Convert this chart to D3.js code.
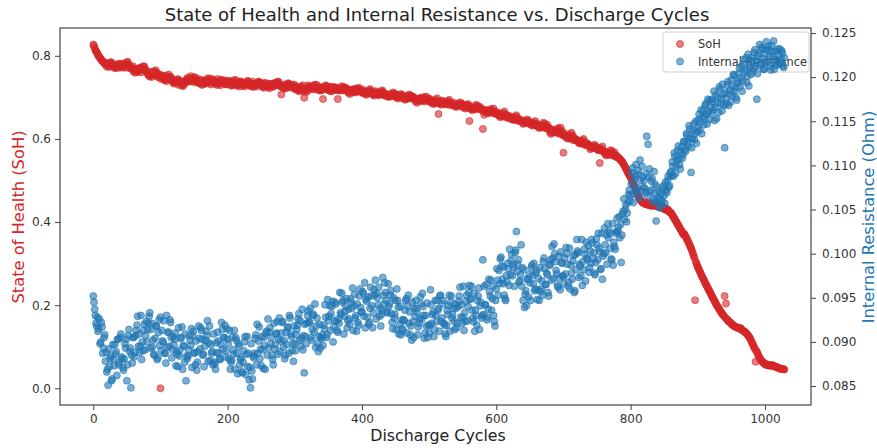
<!DOCTYPE html>
<html>
<head>
<meta charset="utf-8">
<script src="https://cdn.jsdelivr.net/npm/d3@7"></script>
<style>
  body { margin: 0; background: #fff; }
  text { font-family: "DejaVu Sans", sans-serif; }
</style>
</head>
<body>
<div id="chart"></div>
<script>
// discharge cycles: even ones and odd ones kept in separate lists
var cyclesEven = d3.range(0, 1030, 2);
var cyclesOdd = d3.range(1, 1030, 2);

// state of health, in thousandths (even cycles)
var sohEven = [
  827, 819, 811, 806, 800, 795, 791, 787, 784, 781,
  774, 777, 781, 785, 782, 776, 772, 770, 777, 781,
  781, 777, 772, 775, 780, 783, 776, 770, 772, 768,
  762, 759, 765, 769, 763, 768, 773, 770, 774, 765,
  760, 753, 750, 753, 756, 763, 761, 755, 758, 751,
  0, 753, 746, 741, 745, 751, 755, 748, 742, 739,
  733, 736, 740, 744, 741, 735, 731, 729, 736, 740,
  747, 743, 738, 741, 746, 749, 742, 736, 738, 734,
  733, 730, 736, 740, 734, 739, 744, 741, 745, 736,
  740, 733, 730, 733, 736, 743, 741, 735, 738, 731,
  736, 740, 733, 728, 732, 738, 742, 735, 729, 726,
  738, 734, 729, 732, 737, 740, 733, 727, 729, 725,
  727, 730, 734, 738, 735, 729, 725, 723, 730, 734,
  725, 722, 728, 732, 726, 731, 736, 733, 737, 728,
  707, 724, 721, 724, 727, 734, 732, 726, 729, 722,
  723, 727, 720, 715, 719, 725, 729, 699, 716, 713,
  729, 725, 720, 723, 728, 731, 724, 718, 720, 716,
  718, 696, 725, 729, 726, 720, 716, 714, 721, 725,
  724, 717, 696, 717, 720, 727, 725, 719, 722, 715,
  711, 708, 714, 718, 712, 717, 722, 719, 723, 714,
  714, 718, 711, 706, 710, 716, 720, 713, 707, 704,
  715, 711, 706, 709, 714, 717, 710, 704, 706, 702,
  701, 704, 708, 712, 709, 703, 699, 697, 704, 708,
  704, 697, 694, 697, 700, 707, 705, 699, 702, 695,
  690, 687, 693, 697, 691, 696, 701, 698, 702, 693,
  692, 696, 689, 684, 688, 694, 698, 660, 685, 682,
  692, 688, 683, 686, 691, 694, 687, 681, 683, 679,
  677, 680, 684, 688, 685, 679, 675, 673, 680, 684,
  643, 672, 669, 672, 675, 682, 680, 674, 677, 670,
  624, 658, 664, 668, 662, 667, 672, 669, 673, 664,
  660, 664, 657, 652, 656, 662, 666, 659, 653, 650,
  655, 651, 646, 649, 654, 657, 650, 644, 646, 642,
  636, 639, 643, 647, 644, 638, 634, 632, 639, 643,
  636, 629, 626, 629, 632, 639, 637, 631, 634, 627,
  615, 612, 618, 622, 616, 621, 626, 623, 627, 618,
  567, 613, 606, 601, 605, 611, 615, 608, 602, 599,
  598, 594, 589, 592, 597, 600, 593, 587, 589, 585,
  575, 578, 582, 586, 583, 577, 573, 542, 578, 582,
  570, 563, 560, 563, 566, 573, 571, 565, 568, 561,
  558, 554, 552, 547, 544, 538, 532, 526, 519, 513,
  508, 500, 492, 485, 476, 468, 460, 455, 450, 447,
  446, 443, 447, 441, 444, 439, 443, 440, 442, 438,
  441, 437, 439, 434, 436, 431, 433, 428, 429, 424,
  422, 417, 412, 406, 401, 394, 390, 383, 378, 372,
  372, 365, 358, 352, 344, 337, 328, 318, 212, 301,
  292, 285, 278, 270, 264, 257, 250, 245, 238, 232,
  225, 219, 213, 207, 200, 196, 190, 185, 180, 176,
  222, 204, 165, 161, 159, 155, 152, 150, 148, 147,
  146, 143, 145, 140, 138, 136, 133, 129, 125, 120,
  112, 106, 99, 64, 88, 80, 73, 68, 64, 61,
  58, 56, 57, 55, 54, 56, 55, 53, 52, 51,
  49, 48, 47, 46, 46
];

// state of health, in thousandths (odd cycles)
var sohOdd = [
  824, 814, 809, 801, 798, 792, 788, 785, 780, 783,
  780, 773, 776, 783, 779, 771, 775, 779, 774, 771,
  774, 779, 782, 771, 777, 786, 779, 773, 769, 775,
  769, 764, 761, 766, 771, 760, 767, 775, 768, 762,
  757, 762, 755, 749, 759, 754, 765, 752, 748, 754,
  744, 749, 752, 744, 739, 748, 743, 750, 745, 737,
  738, 742, 735, 730, 738, 733, 727, 739, 734, 742,
  739, 745, 751, 744, 737, 742, 747, 740, 735, 743,
  741, 736, 732, 742, 737, 746, 735, 731, 739, 742,
  734, 738, 744, 737, 729, 735, 739, 732, 741, 736,
  731, 737, 730, 735, 741, 733, 728, 736, 732, 738,
  735, 730, 726, 734, 731, 737, 729, 733, 738, 731,
  733, 726, 732, 737, 730, 733, 728, 735, 727, 732,
  728, 733, 730, 725, 734, 729, 731, 738, 730, 726,
  729, 725, 731, 722, 728, 733, 724, 729, 726, 731,
  719, 724, 717, 722, 726, 718, 714, 721, 719, 724,
  721, 726, 722, 719, 727, 724, 730, 721, 725, 720,
  724, 719, 722, 727, 718, 723, 726, 719, 717, 723,
  719, 723, 718, 721, 716, 722, 718, 724, 717, 720,
  718, 713, 717, 720, 714, 712, 718, 715, 719, 713,
  710, 715, 712, 708, 713, 711, 716, 709, 712, 708,
  712, 708, 705, 711, 707, 713, 709, 705, 708, 703,
  706, 702, 707, 704, 709, 701, 705, 703, 700, 706,
  702, 699, 703, 696, 701, 698, 703, 697, 700, 696,
  697, 692, 695, 699, 693, 697, 690, 695, 692, 697,
  691, 687, 692, 690, 685, 692, 688, 686, 691, 686,
  685, 689, 684, 687, 682, 688, 685, 683, 687, 682,
  683, 679, 682, 678, 684, 680, 677, 682, 676, 680,
  676, 673, 678, 674, 671, 677, 673, 675, 670, 672,
  668, 665, 670, 663, 667, 664, 669, 662, 666, 661,
  661, 657, 660, 655, 659, 654, 657, 652, 656, 652,
  652, 648, 651, 646, 649, 644, 647, 643, 645, 641,
  643, 639, 641, 637, 640, 636, 638, 635, 637, 633,
  634, 631, 633, 628, 631, 627, 629, 625, 627, 622,
  624, 619, 621, 617, 619, 614, 616, 612, 613, 609,
  609, 605, 607, 602, 604, 600, 602, 597, 599, 596,
  595, 591, 593, 589, 590, 586, 588, 584, 586, 582,
  583, 579, 580, 577, 578, 574, 576, 572, 574, 570,
  570, 567, 568, 564, 565, 561, 563, 559, 560, 556,
  556, 553, 550, 546, 541, 535, 529, 522, 516, 510,
  504, 496, 488, 480, 472, 464, 458, 452, 449, 446,
  444, 446, 442, 445, 440, 444, 439, 442, 439, 441,
  439, 438, 436, 437, 433, 434, 430, 431, 426, 423,
  420, 414, 409, 403, 398, 392, 386, 381, 375, 369,
  368, 362, 355, 348, 341, 333, 323, 314, 305, 296,
  289, 281, 274, 267, 261, 254, 248, 241, 235, 229,
  222, 216, 210, 204, 198, 193, 188, 183, 178, 174,
  170, 167, 163, 160, 157, 154, 151, 149, 147, 146,
  145, 144, 142, 139, 137, 134, 131, 127, 122, 117,
  109, 102, 94, 91, 84, 77, 71, 66, 63, 60,
  57, 58, 55, 56, 54, 55, 54, 52, 51, 50,
  48, 47, 47, 46, 45
];

// internal resistance, in 1e-4 ohm (even cycles)
var resEven = [
  952, 937, 921, 928, 915, 898, 922, 887, 905, 878,
  866, 851, 872, 884, 858, 880, 897, 889, 903, 874,
  905, 883, 871, 881, 893, 856, 907, 889, 848, 876,
  905, 888, 913, 929, 909, 895, 880, 890, 920, 907,
  900, 921, 933, 914, 894, 886, 904, 918, 882, 925,
  928, 913, 900, 887, 876, 894, 911, 925, 905, 891,
  897, 910, 889, 872, 884, 904, 917, 896, 877, 856,
  881, 891, 902, 915, 907, 887, 874, 868, 889, 904,
  916, 903, 886, 895, 912, 924, 899, 879, 887, 874,
  877, 869, 888, 901, 881, 897, 914, 905, 919, 890,
  903, 881, 869, 879, 891, 913, 905, 887, 898, 874,
  882, 865, 890, 906, 886, 872, 857, 848, 867, 884,
  887, 908, 920, 901, 881, 873, 891, 905, 869, 912,
  926, 911, 898, 885, 874, 892, 909, 923, 903, 889,
  910, 923, 902, 885, 897, 917, 930, 909, 890, 878,
  898, 908, 919, 932, 924, 904, 891, 865, 906, 921,
  935, 922, 905, 914, 931, 943, 918, 898, 906, 893,
  904, 896, 915, 928, 908, 924, 941, 932, 946, 917,
  945, 923, 911, 921, 933, 955, 947, 929, 940, 916,
  937, 920, 945, 961, 941, 927, 912, 922, 952, 939,
  934, 955, 967, 948, 928, 920, 938, 952, 916, 959,
  970, 955, 942, 929, 918, 936, 953, 967, 947, 933,
  940, 953, 932, 915, 927, 947, 960, 939, 920, 908,
  915, 925, 936, 949, 941, 921, 908, 902, 923, 938,
  947, 934, 917, 926, 943, 955, 930, 910, 918, 905,
  910, 959, 921, 934, 914, 930, 947, 938, 952, 923,
  943, 921, 909, 919, 931, 953, 945, 927, 938, 914,
  938, 921, 946, 962, 942, 928, 913, 923, 953, 940,
  964, 949, 936, 923, 912, 930, 947, 961, 941, 927,
  993, 963, 942, 925, 937, 957, 970, 949, 930, 918,
  960, 970, 981, 994, 986, 966, 953, 947, 968, 983,
  1005, 992, 975, 984, 1001, 1025, 988, 968, 976, 963,
  947, 939, 958, 971, 951, 967, 984, 975, 989, 960,
  981, 959, 947, 957, 969, 991, 983, 965, 976, 952,
  987, 970, 995, 1011, 991, 977, 962, 972, 1002, 989,
  974, 995, 1007, 988, 968, 960, 978, 992, 956, 999,
  1016, 1001, 988, 975, 964, 982, 999, 1013, 993, 979,
  1003, 1016, 995, 978, 990, 1010, 1023, 1002, 983, 971,
  1000, 1010, 1021, 1034, 1026, 1006, 993, 987, 1008, 1023,
  1040, 1030, 1018, 990, 1045, 1062, 1050, 1036, 1058, 1072,
  1066, 1092, 1058, 1084, 1101, 1075, 1090, 1106, 1071, 1087,
  1083, 1069, 1133, 1124, 1096, 1072, 1085, 1062, 1079, 1037,
  1058, 1071, 1062, 1055, 1074, 1066, 1081, 1069, 1088, 1077,
  1093, 1104, 1088, 1110, 1099, 1117, 1107, 1096, 1121, 1112,
  1127, 1116, 1134, 1122, 1141, 1092, 1130, 1147, 1136, 1125,
  1143, 1158, 1149, 1136, 1162, 1154, 1170, 1147, 1161, 1174,
  1159, 1172, 1184, 1166, 1153, 1177, 1189, 1170, 1162, 1181,
  1120, 1176, 1191, 1168, 1185, 1197, 1179, 1202, 1188, 1174,
  1193, 1210, 1199, 1184, 1215, 1205, 1222, 1201, 1190, 1213,
  1219, 1206, 1228, 1212, 1175, 1224, 1237, 1216, 1232, 1209,
  1226, 1240, 1218, 1231, 1212, 1236, 1223, 1209, 1229, 1219,
  1214, 1232, 1220, 1227, 1211
];

// internal resistance, in 1e-4 ohm (odd cycles)
var resOdd = [
  945, 930, 918, 912, 926, 900, 917, 893, 908, 888,
  869, 892, 881, 856, 897, 873, 886, 862, 903, 877,
  909, 881, 868, 898, 903, 874, 914, 893, 885, 905,
  883, 907, 919, 895, 888, 930, 900, 913, 891, 923,
  914, 929, 893, 921, 902, 885, 918, 880, 911, 896,
  890, 901, 924, 887, 930, 911, 895, 922, 882, 906,
  903, 873, 886, 916, 891, 905, 869, 895, 909, 884,
  884, 907, 896, 871, 912, 888, 901, 877, 918, 892,
  913, 885, 872, 902, 907, 878, 918, 897, 889, 909,
  875, 899, 911, 887, 880, 922, 892, 905, 883, 915,
  898, 913, 877, 905, 886, 869, 902, 864, 895, 880,
  866, 877, 900, 863, 906, 887, 871, 898, 858, 882,
  904, 874, 887, 917, 892, 906, 870, 896, 910, 885,
  893, 916, 905, 880, 921, 897, 910, 886, 927, 901,
  922, 894, 881, 911, 916, 887, 927, 906, 898, 918,
  890, 914, 926, 902, 895, 937, 907, 920, 898, 930,
  923, 938, 902, 930, 911, 894, 927, 889, 920, 905,
  908, 919, 942, 905, 948, 929, 913, 940, 900, 924,
  943, 913, 926, 956, 931, 945, 909, 935, 949, 924,
  926, 949, 938, 913, 954, 930, 943, 919, 960, 934,
  957, 929, 916, 946, 951, 922, 962, 941, 933, 953,
  926, 950, 962, 938, 931, 973, 943, 956, 934, 966,
  943, 958, 922, 950, 931, 914, 947, 909, 940, 925,
  913, 924, 947, 910, 953, 934, 918, 945, 905, 929,
  938, 908, 921, 951, 926, 940, 904, 930, 944, 919,
  919, 942, 931, 906, 947, 923, 936, 912, 953, 927,
  947, 919, 906, 936, 941, 912, 952, 931, 923, 943,
  916, 940, 952, 928, 921, 963, 933, 946, 924, 956,
  948, 963, 927, 955, 936, 919, 952, 914, 945, 930,
  931, 942, 965, 928, 971, 952, 936, 963, 923, 947,
  983, 953, 966, 996, 971, 985, 949, 975, 989, 964,
  976, 999, 988, 963, 1004, 980, 993, 969, 1010, 984,
  982, 954, 941, 971, 976, 947, 987, 966, 958, 978,
  948, 972, 984, 960, 953, 995, 965, 978, 956, 988,
  993, 1008, 972, 1000, 981, 964, 997, 959, 990, 975,
  966, 977, 1000, 963, 1006, 987, 971, 998, 958, 982,
  1003, 973, 986, 1016, 991, 1005, 969, 995, 1009, 984,
  989, 1012, 1001, 976, 1017, 993, 1006, 982, 1023, 997,
  1029, 1001, 988, 1018, 1023, 994, 1034, 1013, 1005, 1025,
  1025, 1042, 1033, 1021, 1048, 1039, 1055, 1046, 1067, 1060,
  1079, 1097, 1068, 1088, 1072, 1094, 1063, 1083, 1099, 1075,
  1074, 1091, 1066, 1087, 1070, 1082, 1059, 1093, 1068, 1076,
  1063, 1052, 1068, 1060, 1077, 1057, 1072, 1083, 1075, 1091,
  1088, 1099, 1114, 1091, 1106, 1122, 1101, 1115, 1108, 1127,
  1118, 1136, 1126, 1145, 1131, 1120, 1139, 1129, 1150, 1138,
  1152, 1140, 1163, 1155, 1146, 1168, 1158, 1175, 1152, 1166,
  1175, 1163, 1151, 1180, 1171, 1160, 1186, 1176, 1192, 1168,
  1183, 1170, 1195, 1181, 1172, 1190, 1203, 1184, 1177, 1195,
  1204, 1189, 1212, 1196, 1220, 1208, 1194, 1226, 1211, 1203,
  1222, 1210, 1231, 1219, 1204, 1227, 1213, 1234, 1221, 1209,
  1231, 1217, 1235, 1224, 1208, 1229, 1241, 1220, 1214, 1232,
  1225, 1216, 1230, 1213, 1222
];

var xTicks = [0, 200, 400, 600, 800, 1000];
var sohTicks = [0.0, 0.2, 0.4, 0.6, 0.8];
var resTicks = [0.085, 0.090, 0.095, 0.100, 0.105, 0.110, 0.115, 0.120, 0.125];

var red = "#d62728", blue = "#1f77b4";
var width = 877, height = 448;
var plotL = 60, plotR = 811, plotT = 28, plotB = 405;
var dotR = 3.5;

var svg = d3.select("#chart").append("svg")
  .attr("width", width).attr("height", height);

var x = d3.scaleLinear().domain([-49.6, 1068.6]).range([plotL, plotR]);
var ySoh = d3.scaleLinear().domain([-0.0402, 0.8669]).range([plotB, plotT]);
var yRes = d3.scaleLinear().domain([0.08285, 0.12557]).range([plotB, plotT]);

// merge even and odd samples into cycle order
function series(evenVals, oddVals, unit) {
  var out = [];
  cyclesEven.forEach(function(c, i) { out.push({c: c, v: evenVals[i] / unit}); });
  cyclesOdd.forEach(function(c, i) { out.push({c: c, v: oddVals[i] / unit}); });
  return out.sort(function(a, b) { return a.c - b.c; });
}
var soh = series(sohEven, sohOdd, 1000);
var res = series(resEven, resOdd, 10000);

function dots(g, color) {
  g.attr("r", dotR)
    .style("fill", color).style("fill-opacity", 0.6)
    .style("stroke", color).style("stroke-opacity", 0.6).style("stroke-width", 1);
}

// SoH points (first axes)
svg.append("g").selectAll("circle")
  .data(soh).enter().append("circle")
  .attr("cx", function(d) { return x(d.c); })
  .attr("cy", function(d) { return ySoh(d.v); })
  .call(dots, red);

// legend belongs to first axes, so it sits under the blue points
var leg = svg.append("g").attr("transform", "translate(663,32)");
leg.append("rect").attr("width", 146).attr("height", 40).attr("rx", 3)
  .style("fill", "#fff").style("fill-opacity", 0.8)
  .style("stroke", "#d0d0d0").style("stroke-width", 1);
[["SoH", red], ["Internal Resistance", blue]].forEach(function(e, i) {
  leg.append("circle").attr("cx", 17).attr("cy", 12 + i * 17.5).call(dots, e[1]);
  leg.append("text").attr("x", 35).attr("y", 16 + i * 17.5)
    .style("font-size", "11.4px").style("fill", "#333").text(e[0]);
});

// resistance points (second axes, drawn on top)
svg.append("g").selectAll("circle")
  .data(res).enter().append("circle")
  .attr("cx", function(d) { return x(d.c); })
  .attr("cy", function(d) { return yRes(d.v); })
  .call(dots, blue);

// axes
var gx = svg.append("g").attr("transform", "translate(0," + plotB + ")")
  .call(d3.axisBottom(x).tickValues(xTicks).tickSize(5).tickPadding(4).tickFormat(d3.format("d")));
var gl = svg.append("g").attr("transform", "translate(" + plotL + ",0)")
  .call(d3.axisLeft(ySoh).tickValues(sohTicks).tickSize(5).tickPadding(4).tickFormat(d3.format(".1f")));
var gr = svg.append("g").attr("transform", "translate(" + plotR + ",0)")
  .call(d3.axisRight(yRes).tickValues(resTicks).tickSize(5).tickPadding(6).tickFormat(d3.format(".3f")));
[gx, gl, gr].forEach(function(g) {
  g.select(".domain").remove();
  g.selectAll("line").style("stroke", "#444");
  g.selectAll("text").style("font-size", "12px").style("fill", "#333")
    .style("font-family", "DejaVu Sans, sans-serif");
});

// frame
svg.append("rect").attr("x", plotL).attr("y", plotT)
  .attr("width", plotR - plotL).attr("height", plotB - plotT)
  .style("fill", "none").style("stroke", "#444").style("stroke-width", 1.2);

// titles
svg.append("text").attr("x", 437).attr("y", 21).attr("text-anchor", "middle")
  .style("font-size", "18px").style("fill", "#222")
  .text("State of Health and Internal Resistance vs. Discharge Cycles");
svg.append("text").attr("x", 438).attr("y", 441).attr("text-anchor", "middle")
  .style("font-size", "15.8px").style("fill", "#222").text("Discharge Cycles");
svg.append("text").attr("transform", "translate(24,217) rotate(-90)")
  .attr("text-anchor", "middle").style("font-size", "16.3px").style("fill", red)
  .text("State of Health (SoH)");
svg.append("text").attr("transform", "translate(874,217) rotate(-90)")
  .attr("text-anchor", "middle").style("font-size", "16.3px").style("fill", blue)
  .text("Internal Resistance (Ohm)");
</script>
</body>
</html>
